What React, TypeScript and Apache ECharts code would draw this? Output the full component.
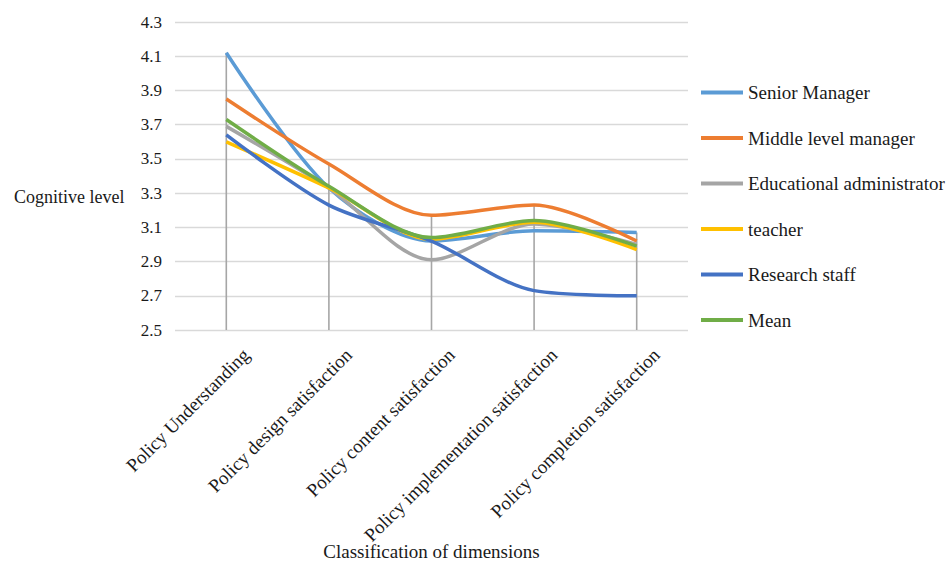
import React, { useEffect, useRef } from "react";
import * as echarts from "echarts";

const categories = [
  "Policy Understanding",
  "Policy design satisfaction",
  "Policy content satisfaction",
  "Policy implementation satisfaction",
  "Policy completion satisfaction",
];
const seriesNames = [
  "Senior Manager",
  "Middle level manager",
  "Educational administrator",
  "teacher",
  "Research staff",
  "Mean",
];
const seniorManager = [4.12, 3.33, 3.02, 3.08, 3.07];
const middleManager = [3.85, 3.47, 3.17, 3.23, 3.02];
const eduAdmin = [3.69, 3.33, 2.91, 3.12, 3.0];
const teacher = [3.6, 3.33, 3.03, 3.13, 2.97];
const researchStaff = [3.64, 3.23, 3.02, 2.73, 2.7];
const mean = [3.73, 3.34, 3.04, 3.14, 2.99];
const yMin = 2.5;
const yMax = 4.3;
const yStep = 0.2;
const yAxisTitle = "Cognitive level";
const xAxisTitle = "Classification of dimensions";

const colors = ["#5B9BD5", "#ED7D31", "#A5A5A5", "#FFC000", "#4472C4", "#70AD47"];
const FONT = "Liberation Serif";
const TEXT = "#1a1a1a";

export default function App() {
  const ref = useRef<HTMLDivElement>(null);
  useEffect(() => {
    if (!ref.current) return;
    const chart = echarts.init(ref.current, undefined, { renderer: "svg" });
    const allSeries = [seniorManager, middleManager, eduAdmin, teacher, researchStaff, mean];
    const maxes = categories.map((_, i) => [i, Math.max(...allSeries.map((s) => s[i]))]);
    chart.setOption({
      animation: false,
      color: colors,
      textStyle: { fontFamily: FONT, color: TEXT },
      grid: { left: 175, width: 513, top: 22, height: 308, containLabel: false, outerBoundsMode: "none" },
      legend: {
        orient: "vertical",
        left: 696,
        top: 78,
        data: seriesNames,
        icon: "rect",
        itemWidth: 42,
        itemHeight: 4,
        itemGap: 26.5,
        textStyle: { fontFamily: FONT, fontSize: 19, color: TEXT, lineHeight: 18 },
      },
      graphic: [
        {
          type: "text",
          left: 14,
          top: 188,
          style: { text: yAxisTitle, fontFamily: FONT, fontSize: 18, fill: TEXT },
        },
      ],
      xAxis: {
        type: "category",
        data: categories,
        boundaryGap: true,
        axisLine: { show: false },
        axisTick: { show: false },
        name: xAxisTitle,
        nameLocation: "middle",
        nameGap: 212,
        nameMoveOverlap: false,
        nameTextStyle: { fontFamily: FONT, fontSize: 19, color: TEXT },
        axisLabel: {
          rotate: 45,
          interval: 0,
          margin: 2,
          verticalAlign: "top",
          lineHeight: 56,
          fontFamily: FONT,
          fontSize: 19,
          color: TEXT,
        },
      },
      yAxis: {
        type: "value",
        min: yMin,
        max: yMax,
        interval: yStep,
        axisLine: { show: false },
        axisTick: { show: false },
        splitLine: { lineStyle: { color: "#D9D9D9", width: 1.3 } },
        axisLabel: {
          margin: 13,
          fontFamily: FONT,
          fontSize: 17,
          color: TEXT,
          formatter: (v: number) => v.toFixed(1),
        },
      },
      series: [
        {
          type: "custom",
          name: "drop",
          z: 1,
          silent: true,
          renderItem: (_p: any, api: any) => {
            const top = api.coord([api.value(0), api.value(1)]);
            const bottom = api.coord([api.value(0), yMin]);
            return {
              type: "line",
              shape: { x1: top[0], y1: top[1], x2: bottom[0], y2: bottom[1] },
              style: { stroke: "#A6A6A6", lineWidth: 1.6 },
            };
          },
          data: maxes,
        },
        ...allSeries.map((d, i) => ({
          type: "line",
          name: seriesNames[i],
          data: d,
          smooth: 0.3,
          showSymbol: false,
          symbol: "none",
          z: 2 + i,
          lineStyle: { width: 3.5, color: colors[i] },
          itemStyle: { color: colors[i] },
        })),
      ],
    });
    return () => chart.dispose();
  }, []);
  return (
    <div
      ref={ref}
      style={{ position: "absolute", left: 0, top: 0, width: 952, height: 565, background: "#fff" }}
    />
  );
}
